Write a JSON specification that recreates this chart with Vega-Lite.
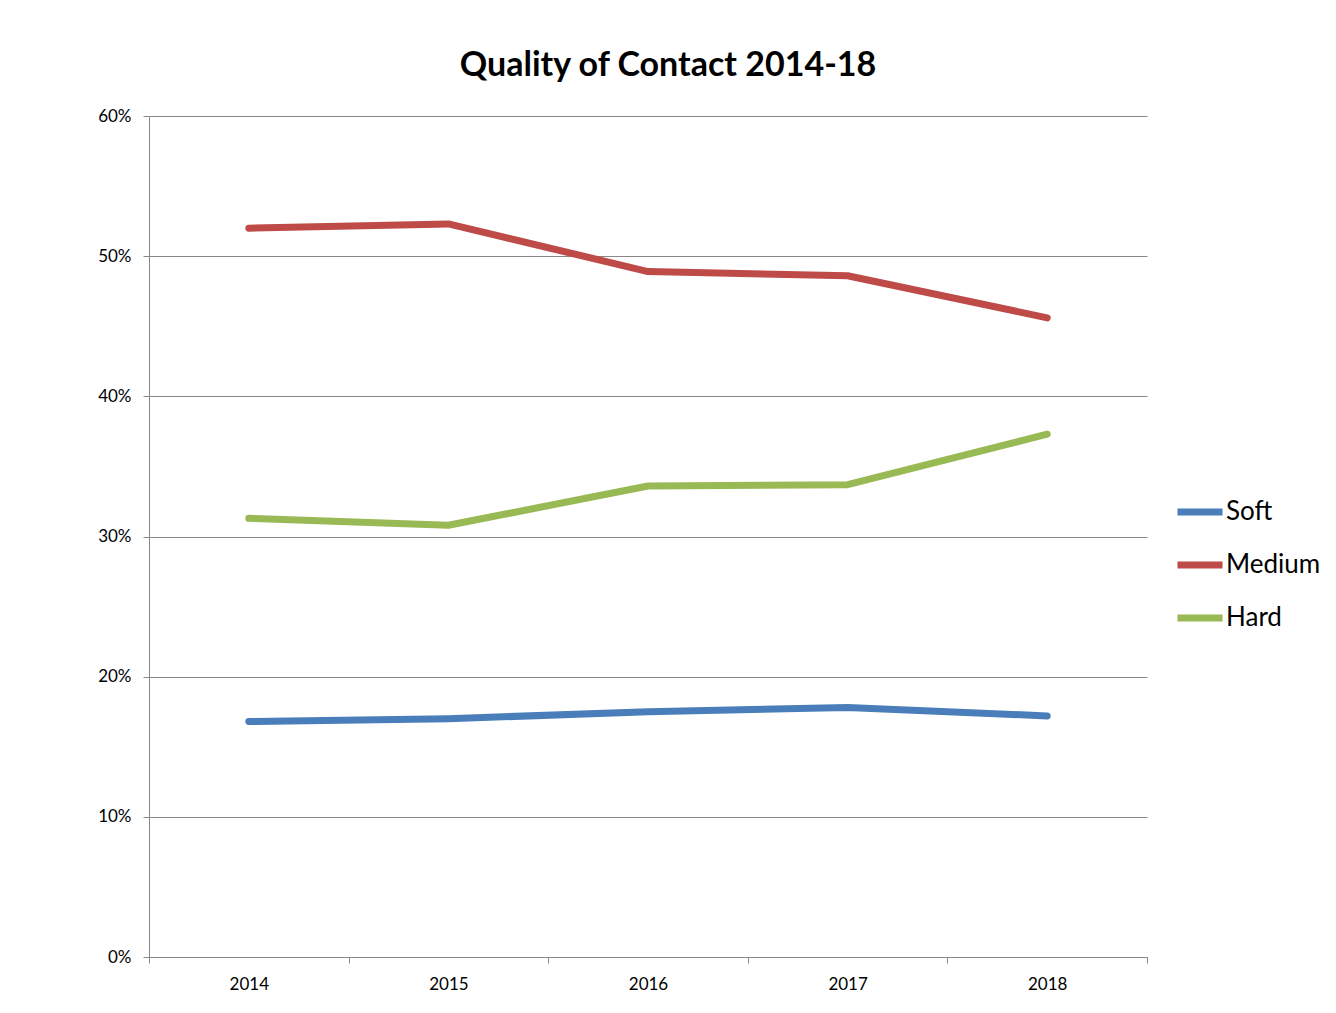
{
  "$schema": "https://vega.github.io/schema/vega-lite/v6.json",
  "autosize": {"type": "none"},
  "width": 998,
  "height": 841,
  "padding": {"left": 149, "top": 116, "right": 189, "bottom": 56},
  "background": "white",
  "title": {
    "text": "Quality of Contact 2014-18",
    "font": "Lato",
    "fontSize": 34,
    "fontWeight": "bold",
    "color": "black",
    "anchor": "middle",
    "dx": 20,
    "offset": 24
  },
  "data": {
    "values": [
      {"year": "2014", "type": "Soft", "share": 0.168},
      {"year": "2015", "type": "Soft", "share": 0.170},
      {"year": "2016", "type": "Soft", "share": 0.175},
      {"year": "2017", "type": "Soft", "share": 0.178},
      {"year": "2018", "type": "Soft", "share": 0.172},
      {"year": "2014", "type": "Medium", "share": 0.520},
      {"year": "2015", "type": "Medium", "share": 0.523},
      {"year": "2016", "type": "Medium", "share": 0.489},
      {"year": "2017", "type": "Medium", "share": 0.486},
      {"year": "2018", "type": "Medium", "share": 0.456},
      {"year": "2014", "type": "Hard", "share": 0.313},
      {"year": "2015", "type": "Hard", "share": 0.308},
      {"year": "2016", "type": "Hard", "share": 0.336},
      {"year": "2017", "type": "Hard", "share": 0.337},
      {"year": "2018", "type": "Hard", "share": 0.373}
    ]
  },
  "mark": {"type": "line", "strokeWidth": 7, "strokeCap": "round", "strokeJoin": "round"},
  "encoding": {
    "x": {
      "field": "year",
      "type": "ordinal",
      "bandPosition": 0.5,
      "scale": {"type": "band", "paddingInner": 0, "paddingOuter": 0},
      "axis": {
        "title": null,
        "labelAngle": 0,
        "labelFont": "Lato",
        "labelFontSize": 17,
        "labelColor": "black",
        "labelPadding": 13,
        "tickBand": "extent",
        "tickSize": 6,
        "tickColor": "#888888",
        "domainColor": "#888888",
        "grid": false
      }
    },
    "y": {
      "field": "share",
      "type": "quantitative",
      "scale": {"domain": [0, 0.6]},
      "axis": {
        "title": null,
        "format": ".0%",
        "values": [0, 0.1, 0.2, 0.3, 0.4, 0.5, 0.6],
        "labelFont": "Lato",
        "labelFontSize": 17,
        "labelColor": "black",
        "labelPadding": 12,
        "tickSize": 6,
        "tickColor": "#888888",
        "domainColor": "#888888",
        "gridColor": "#888888",
        "gridOpacity": 1
      }
    },
    "color": {
      "field": "type",
      "type": "nominal",
      "scale": {
        "domain": ["Soft", "Medium", "Hard"],
        "range": ["#4A7EBB", "#BE4B48", "#98B954"]
      },
      "legend": {
        "title": null,
        "orient": "none",
        "legendX": 1025,
        "legendY": 370,
        "symbolType": "stroke",
        "symbolSize": 2025,
        "symbolStrokeWidth": 7,
        "labelFont": "Lato",
        "labelFontSize": 26,
        "labelColor": "black",
        "labelOffset": 0,
        "rowPadding": 13
      }
    }
  },
  "config": {"view": {"stroke": null}}
}
